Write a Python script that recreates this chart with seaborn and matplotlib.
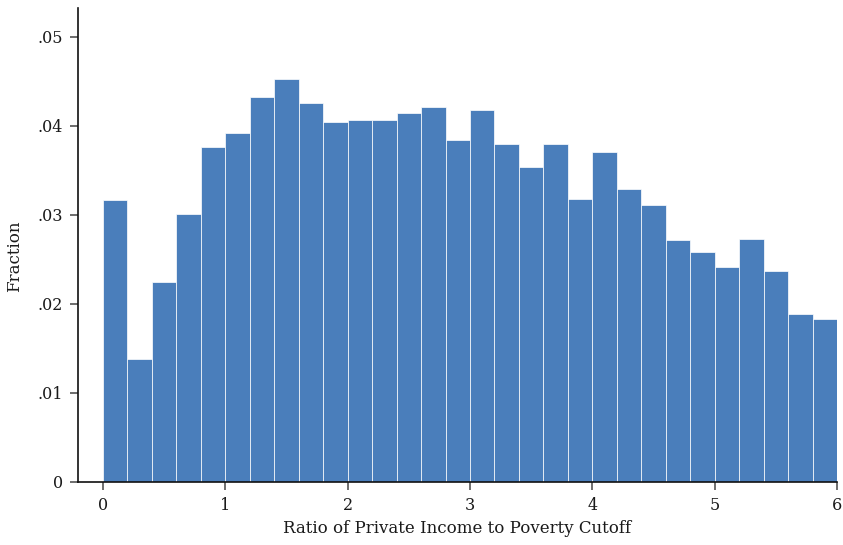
import numpy as np
import pandas as pd
import matplotlib
matplotlib.use("Agg")
import matplotlib.pyplot as plt
import seaborn as sns

# Histogram of the income-to-poverty ratio: 30 bins of width 0.2 on [0, 6]
bin_edges = [round(0.2 * i, 1) for i in range(31)]
fractions = [
    0.0317, 0.0138, 0.0225, 0.0301, 0.0376, 0.0392, 0.0432, 0.0452, 0.0426, 0.0404,
    0.0406, 0.0407, 0.0414, 0.0421, 0.0384, 0.0418, 0.0380, 0.0354, 0.0379, 0.0318,
    0.0371, 0.0329, 0.0311, 0.0272, 0.0258, 0.0241, 0.0273, 0.0237, 0.0189, 0.0183,
]
y_ticks = [0, 0.01, 0.02, 0.03, 0.04, 0.05]
y_tick_labels = ["0", ".01", ".02", ".03", ".04", ".05"]
x_ticks = [0, 1, 2, 3, 4, 5, 6]

centers = [(a + b) / 2 for a, b in zip(bin_edges[:-1], bin_edges[1:])]
df = pd.DataFrame({"ratio": centers, "fraction": fractions})

sns.set_style("white")
plt.rcParams["font.family"] = ["DejaVu Serif"]

fig = plt.figure(figsize=(8.43, 5.45), dpi=100)
ax = fig.add_axes([0.0925, 0.1156, 0.9005, 0.8694])

sns.histplot(data=df, x="ratio", weights="fraction", bins=bin_edges,
             stat="count", color="#4a7ebb", alpha=1.0,
             edgecolor="white", linewidth=0.5, ax=ax)

ax.set_xlim(-0.204, 6.0)
ax.set_ylim(0, 0.0532)
ax.set_xticks(x_ticks)
ax.set_xticklabels([str(t) for t in x_ticks])
ax.set_yticks(y_ticks)
ax.set_yticklabels(y_tick_labels)

for side in ("top", "right"):
    ax.spines[side].set_visible(False)
for side in ("left", "bottom"):
    ax.spines[side].set_color("#111111")
    ax.spines[side].set_linewidth(1.2)

ax.tick_params(axis="both", which="major", direction="out", length=6,
               width=1.2, color="#555555", labelsize=11.5, labelcolor="#1a1a1a",
               bottom=True, left=True, pad=5)
ax.set_xlabel("Ratio of Private Income to Poverty Cutoff", fontsize=12,
              color="#1a1a1a", labelpad=4)
ax.set_ylabel("Fraction", fontsize=12, color="#1a1a1a")
ax.yaxis.set_label_coords(-0.073, 0.477)

fig.savefig("out.png", dpi=100)
